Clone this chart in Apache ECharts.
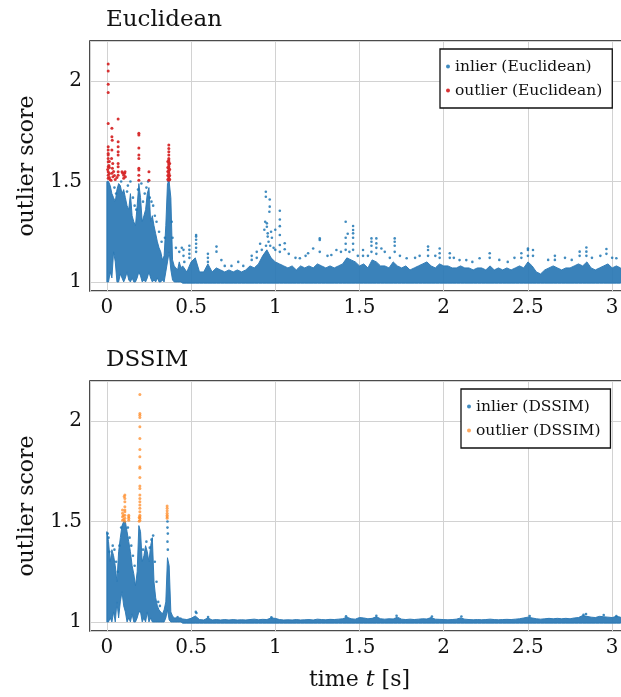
<!DOCTYPE html>
<html>
<head>
<meta charset="utf-8">
<script src="https://cdn.jsdelivr.net/npm/echarts@6/dist/echarts.min.js"></script>
<style>
html, body { margin: 0; padding: 0; background: #fff; }
#main { width: 621px; height: 697px; }
</style>
</head>
<body>
<div id="main"></div>
<script>
// time grid of the dense band (s)
var tEarly = [0.00,0.01,0.02,0.03,0.04,0.05,0.06,0.07,0.08,0.09,0.10,0.11,0.12,0.13,0.14,0.15,0.16,0.17,0.18,0.19,0.20,0.21,0.22,0.23,0.24,0.25,0.26,0.27,0.28,0.29,0.30,0.31,0.32,0.33,0.34,0.35,0.36,0.37,0.38,0.39,0.40,0.41,0.42,0.43,0.44];
var tLate = [0.45,0.475,0.5,0.525,0.55,0.575,0.6,0.625,0.65,0.675,0.7,0.725,0.75,0.775,0.8,0.825,0.85,0.875,0.9,0.925,0.95,0.975,1.0,1.025,1.05,1.075,1.1,1.125,1.15,1.175,1.2,1.225,1.25,1.275,1.3,1.325,1.35,1.375,1.4,1.425,1.45,1.475,1.5,1.525,1.55,1.575,1.6,1.625,1.65,1.675,1.7,1.725,1.75,1.775,1.8,1.825,1.85,1.875,1.9,1.925,1.95,1.975,2.0,2.025,2.05,2.075,2.1,2.125,2.15,2.175,2.2,2.225,2.25,2.275,2.3,2.325,2.35,2.375,2.4,2.425,2.45,2.475,2.5,2.525,2.55,2.575,2.6,2.625,2.65,2.675,2.7,2.725,2.75,2.775,2.8,2.825,2.85,2.875,2.9,2.925,2.95,2.975,3.0,3.025,3.05];
var bandFloor = 0.994;

// Euclidean: dense inlier band (upper / lower edge)
var eucHiEarly = [1.50,1.50,1.48,1.44,1.42,1.40,1.46,1.49,1.48,1.44,1.46,1.42,1.38,1.36,1.44,1.33,1.30,1.28,1.38,1.49,1.42,1.30,1.33,1.36,1.44,1.47,1.30,1.33,1.28,1.24,1.20,1.17,1.15,1.11,1.13,1.28,1.49,1.50,1.42,1.11,1.08,1.07,1.06,1.10,1.07];
var eucLoEarly = [1.00,1.00,1.05,1.02,1.15,1.10,1.00,1.00,1.04,1.02,1.00,1.02,1.05,1.01,1.00,1.02,1.00,1.00,1.02,1.05,1.03,1.00,1.01,1.00,1.02,1.05,1.02,1.00,1.01,1.00,1.02,1.00,1.00,1.01,1.00,1.05,1.10,1.15,1.06,1.01,1.00,1.00,1.00,1.00,1.00];
var eucHiLate = [1.08,1.05,1.10,1.12,1.05,1.05,1.09,1.05,1.07,1.06,1.05,1.06,1.05,1.06,1.05,1.06,1.08,1.07,1.09,1.13,1.16,1.12,1.10,1.09,1.08,1.07,1.08,1.06,1.08,1.07,1.08,1.07,1.09,1.08,1.07,1.08,1.07,1.08,1.09,1.12,1.11,1.10,1.08,1.09,1.07,1.11,1.10,1.08,1.08,1.07,1.10,1.08,1.07,1.08,1.06,1.07,1.08,1.09,1.10,1.08,1.07,1.09,1.08,1.08,1.07,1.07,1.08,1.07,1.07,1.06,1.07,1.07,1.06,1.08,1.06,1.07,1.06,1.07,1.06,1.07,1.08,1.07,1.10,1.08,1.05,1.04,1.06,1.07,1.08,1.07,1.06,1.07,1.07,1.08,1.09,1.08,1.10,1.07,1.06,1.07,1.08,1.09,1.07,1.08,1.07];
// Euclidean: sparse inlier points above the band
var eucInlierDots = [[0.045,1.47],[0.055,1.44],[0.085,1.50],[0.12,1.45],[0.125,1.48],[0.14,1.50],[0.155,1.42],[0.165,1.38],[0.175,1.36],[0.185,1.46],[0.205,1.49],[0.215,1.40],[0.225,1.44],[0.235,1.47],[0.245,1.50],[0.255,1.42],[0.265,1.40],[0.275,1.38],[0.285,1.33],[0.295,1.30],[0.31,1.25],[0.325,1.20],[0.345,1.22],[0.365,1.50],[0.385,1.30],[0.39,1.22],[0.41,1.17],[0.43,1.15],[0.445,1.17],
  [0.455,1.16],[0.455,1.13],[0.46,1.10],[0.49,1.18],[0.49,1.16],[0.49,1.14],[0.49,1.12],[0.53,1.234],[0.53,1.226],[0.53,1.21],[0.53,1.19],[0.53,1.17],[0.53,1.15],[0.60,1.14],[0.60,1.12],[0.60,1.10],[0.651,1.176],[0.651,1.151],[0.68,1.109],[0.70,1.08],[0.74,1.08],[0.78,1.10],[0.81,1.08],[0.86,1.13],[0.86,1.11],[0.89,1.15],[0.89,1.12],[0.91,1.19],[0.92,1.16],[0.935,1.26],[0.944,1.449],[0.944,1.424],[0.94,1.30],[0.95,1.292],[0.95,1.275],[0.955,1.242],[0.955,1.226],[0.96,1.20],[0.945,1.18],[0.967,1.411],[0.967,1.375],[0.965,1.35],[0.975,1.25],[0.98,1.22],[0.97,1.18],[0.99,1.17],[1.0,1.26],[1.0,1.16],[1.027,1.355],[1.027,1.311],[1.027,1.278],[1.027,1.234],[1.027,1.184],[1.027,1.15],[1.056,1.193],[1.056,1.163],[1.08,1.14],[1.12,1.12],[1.146,1.118],[1.18,1.13],[1.195,1.143],[1.225,1.167],[1.264,1.217],[1.264,1.209],[1.264,1.15],[1.31,1.13],[1.333,1.134],[1.363,1.159],[1.39,1.15],[1.418,1.30],[1.418,1.22],[1.418,1.19],[1.418,1.16],[1.43,1.24],[1.44,1.15],[1.462,1.279],[1.462,1.259],[1.462,1.242],[1.462,1.22],[1.462,1.19],[1.462,1.16],[1.49,1.13],[1.521,1.159],[1.521,1.13],[1.55,1.13],[1.571,1.217],[1.571,1.20],[1.571,1.18],[1.571,1.15],[1.60,1.217],[1.60,1.192],[1.60,1.17],[1.60,1.14],[1.63,1.167],[1.65,1.15],[1.68,1.12],[1.709,1.217],[1.709,1.20],[1.709,1.18],[1.709,1.15],[1.74,1.13],[1.78,1.118],[1.83,1.12],[1.857,1.13],[1.907,1.176],[1.907,1.159],[1.907,1.13],[1.95,1.13],[1.976,1.167],[1.976,1.143],[1.976,1.12],[2.036,1.143],[2.036,1.12],[2.06,1.12],[2.094,1.109],[2.134,1.109],[2.17,1.10],[2.213,1.118],[2.273,1.143],[2.273,1.12],[2.33,1.11],[2.38,1.10],[2.42,1.12],[2.461,1.143],[2.461,1.12],[2.50,1.167],[2.50,1.159],[2.50,1.13],[2.53,1.159],[2.53,1.13],[2.62,1.11],[2.66,1.13],[2.66,1.11],[2.72,1.12],[2.76,1.11],[2.807,1.151],[2.807,1.13],[2.847,1.172],[2.847,1.151],[2.847,1.13],[2.88,1.12],[2.93,1.13],[2.966,1.164],[2.966,1.14],[3.0,1.12],[3.025,1.118]];
// Euclidean: outliers
var eucOutliers = [[0.008,2.085],[0.008,2.051],[0.008,1.984],[0.008,1.944],[0.008,1.789],[0.008,1.673],[0.008,1.657],[0.008,1.640],[0.008,1.632],[0.008,1.615],[0.008,1.599],[0.008,1.574],[0.008,1.549],[0.008,1.532],[0.008,1.516],
  [0.015,1.60],[0.015,1.57],[0.015,1.54],[0.015,1.52],[0.018,1.51],[0.005,1.56],[0.012,1.58],
  [0.03,1.765],[0.03,1.723],[0.032,1.706],[0.03,1.657],[0.028,1.615],[0.035,1.59],[0.033,1.566],[0.03,1.541],[0.036,1.524],[0.025,1.507],[0.04,1.55],[0.045,1.53],[0.05,1.51],
  [0.067,1.811],[0.067,1.698],[0.067,1.673],[0.067,1.648],[0.067,1.632],[0.067,1.59],[0.067,1.574],[0.067,1.549],[0.067,1.532],[0.06,1.52],
  [0.09,1.549],[0.095,1.541],[0.10,1.532],[0.105,1.541],[0.11,1.524],[0.10,1.516],[0.108,1.549],
  [0.19,1.74],[0.19,1.732],[0.19,1.667],[0.19,1.632],[0.19,1.615],[0.19,1.566],[0.19,1.557],[0.19,1.532],[0.19,1.507],
  [0.25,1.549],[0.25,1.507],
  [0.368,1.682],[0.368,1.665],[0.368,1.648],[0.368,1.632],[0.368,1.615],[0.368,1.607],[0.368,1.599],[0.368,1.59],[0.368,1.582],[0.368,1.574],[0.368,1.566],[0.368,1.557],[0.368,1.549],[0.368,1.541],[0.368,1.532],[0.368,1.524],[0.368,1.516],[0.368,1.507],
  [0.362,1.60],[0.362,1.57],[0.362,1.55],[0.362,1.53],[0.362,1.51],[0.373,1.59],[0.373,1.56],[0.373,1.53],[0.373,1.51]];

// DSSIM: dense inlier band (upper / lower edge)
var dsHiEarly = [1.45,1.40,1.30,1.36,1.33,1.28,1.20,1.35,1.42,1.48,1.50,1.50,1.45,1.40,1.35,1.28,1.24,1.18,1.25,1.48,1.45,1.30,1.33,1.38,1.35,1.30,1.38,1.42,1.20,1.12,1.08,1.06,1.05,1.04,1.06,1.10,1.32,1.28,1.05,1.03,1.02,1.02,1.03,1.02,1.02];
var dsLoEarly = [1.00,1.00,1.02,1.00,1.05,1.00,1.10,1.02,1.10,1.15,1.08,1.05,1.00,1.02,1.00,1.04,1.00,1.00,1.02,1.05,1.05,1.00,1.02,1.00,1.05,1.00,1.02,1.00,1.00,1.00,1.00,1.00,1.00,1.00,1.00,1.02,1.06,1.01,1.00,1.00,1.00,1.00,1.00,1.00,1.00];
var dsHiLate = [1.015,1.012,1.018,1.030,1.012,1.010,1.020,1.010,1.012,1.010,1.012,1.010,1.012,1.010,1.011,1.010,1.012,1.014,1.011,1.013,1.012,1.020,1.018,1.012,1.010,1.011,1.010,1.012,1.010,1.011,1.012,1.010,1.014,1.012,1.011,1.013,1.012,1.014,1.016,1.024,1.016,1.014,1.022,1.020,1.016,1.018,1.026,1.016,1.014,1.016,1.015,1.024,1.014,1.012,1.014,1.012,1.014,1.016,1.015,1.022,1.014,1.013,1.012,1.011,1.012,1.014,1.020,1.014,1.012,1.011,1.012,1.011,1.012,1.014,1.012,1.011,1.012,1.013,1.012,1.014,1.016,1.020,1.024,1.020,1.016,1.014,1.016,1.018,1.016,1.018,1.016,1.018,1.016,1.020,1.022,1.032,1.028,1.024,1.022,1.028,1.026,1.024,1.022,1.028,1.024];
var dsInlierDots = [[0.005,1.44],[0.01,1.42],[0.015,1.35],[0.035,1.38],[0.045,1.36],[0.055,1.30],[0.065,1.25],[0.075,1.38],[0.085,1.47],[0.125,1.47],[0.135,1.42],[0.145,1.38],[0.155,1.33],[0.165,1.28],[0.215,1.36],[0.235,1.40],[0.255,1.37],[0.265,1.41],[0.275,1.43],[0.285,1.30],[0.295,1.20],[0.305,1.10],[0.315,1.08],[0.36,1.50],[0.36,1.47],[0.362,1.44],[0.36,1.40],[0.362,1.36],
  [0.528,1.05],[0.532,1.045],[0.601,1.025],[0.977,1.023],[1.42,1.028],[1.60,1.031],[1.72,1.031],[1.93,1.027],[2.105,1.027],[2.51,1.03],[2.845,1.04],[2.83,1.036],[2.95,1.035],[3.025,1.03]];
var dsOutliers = [[0.196,2.133],[0.196,2.038],[0.196,2.030],[0.196,2.018],[0.196,1.972],[0.196,1.914],[0.196,1.859],[0.196,1.823],[0.196,1.773],[0.196,1.765],[0.196,1.720],[0.196,1.677],[0.196,1.665],[0.196,1.632],[0.196,1.615],[0.196,1.599],[0.196,1.582],[0.196,1.566],[0.196,1.549],[0.196,1.532],[0.196,1.524],[0.196,1.516],[0.196,1.507],[0.192,1.502],[0.192,1.52],
  [0.107,1.632],[0.107,1.615],[0.107,1.599],[0.107,1.574],[0.107,1.557],[0.107,1.549],[0.107,1.532],[0.107,1.516],[0.107,1.502],[0.103,1.625],
  [0.093,1.557],[0.093,1.541],[0.093,1.524],[0.093,1.507],[0.098,1.53],[0.100,1.51],
  [0.130,1.532],[0.130,1.524],[0.130,1.516],[0.130,1.507],
  [0.358,1.577],[0.358,1.566],[0.358,1.554],[0.358,1.541],[0.358,1.532],[0.358,1.524],[0.358,1.516]];

var serif = 'DejaVu Serif';

function bandSeries(name, idx, hiE, loE, hiL, color) {
  return {
    name: name,
    type: 'custom',
    xAxisIndex: idx,
    yAxisIndex: idx,
    silent: true,
    clip: true,
    data: [[1, 1]],
    encode: { x: 0, y: 1 },
    z: 1,
    renderItem: function (params, api) {
      var pts = [], i;
      for (i = 0; i < tEarly.length; i++) pts.push(api.coord([tEarly[i], hiE[i]]));
      for (i = 0; i < tLate.length; i++) pts.push(api.coord([tLate[i], hiL[i]]));
      for (i = tLate.length - 1; i >= 0; i--) pts.push(api.coord([tLate[i], bandFloor]));
      for (i = tEarly.length - 1; i >= 0; i--) pts.push(api.coord([tEarly[i], loE[i]]));
      return {
        type: 'polygon',
        shape: { points: pts },
        style: { fill: color, stroke: color, lineWidth: 1, opacity: 0.93 }
      };
    }
  };
}

function dots(name, idx, data, color, size, opacity) {
  return {
    name: name,
    type: 'scatter',
    xAxisIndex: idx,
    yAxisIndex: idx,
    data: data,
    symbolSize: size,
    itemStyle: { color: color, opacity: opacity },
    z: 3
  };
}

function xAxis(idx, withName) {
  var ax = {
    type: 'value', gridIndex: idx, min: -0.1, max: 3.1, splitNumber: 6,
    axisLine: { show: false }, axisTick: { show: false },
    axisLabel: { showMinLabel: false, showMaxLabel: false, margin: 7, color: '#111', fontSize: 20, fontFamily: serif },
    splitLine: { show: true, lineStyle: { color: '#d2d2d2', width: 1 } }
  };
  if (withName) {
    ax.name = '{a|time }{b|t}{a| [s]}';
    ax.nameLocation = 'middle';
    ax.nameGap = 38;
    ax.nameTextStyle = {
      rich: {
        a: { fontSize: 22, fontFamily: serif, color: '#111' },
        b: { fontSize: 22, fontFamily: serif, fontStyle: 'italic', color: '#111' }
      }
    };
  }
  return ax;
}

function yAxis(idx) {
  return {
    type: 'value', gridIndex: idx, min: 0.955, max: 2.2, splitNumber: 3,
    name: 'outlier score', nameLocation: 'middle', nameGap: 52, nameRotate: 90,
    nameTextStyle: { fontSize: 22, fontFamily: serif, color: '#111' },
    axisLine: { show: false }, axisTick: { show: false },
    axisLabel: { showMinLabel: false, showMaxLabel: false, margin: 8, color: '#111', fontSize: 20, fontFamily: serif },
    splitLine: { show: true, lineStyle: { color: '#d2d2d2', width: 1 } }
  };
}

function legend(top, left, names) {
  return {
    orient: 'vertical', left: left, top: top,
    data: names.map(function (n) { return { name: n, icon: 'circle' }; }),
    itemWidth: 4, itemHeight: 4, itemGap: 3,
    padding: [7, 10, 7, 6],
    backgroundColor: '#fff', borderColor: '#111', borderWidth: 1.3, borderRadius: 0,
    textStyle: { fontSize: 15.5, fontFamily: serif, color: '#111', lineHeight: 21 },
    selectedMode: false
  };
}

var myChart = echarts.init(document.getElementById('main'), null, { renderer: 'canvas' });

myChart.setOption({
  animation: false,
  backgroundColor: '#fff',
  title: [
    { text: 'Euclidean', left: 106, top: 9, padding: 0, textStyle: { fontSize: 23, fontWeight: 'normal', fontFamily: serif, color: '#111' } },
    { text: 'DSSIM', left: 106, top: 349, padding: 0, textStyle: { fontSize: 23, fontWeight: 'normal', fontFamily: serif, color: '#111' } }
  ],
  legend: [
    legend(49, 440, ['inlier (Euclidean)', 'outlier (Euclidean)']),
    legend(389, 461, ['inlier (DSSIM)', 'outlier (DSSIM)'])
  ],
  grid: [
    { left: 90, top: 41, height: 250, width: 539, outerBoundsMode: 'none', show: true, borderColor: '#111', borderWidth: 1.5, backgroundColor: 'transparent' },
    { left: 90, top: 381, height: 250, width: 539, outerBoundsMode: 'none', show: true, borderColor: '#111', borderWidth: 1.5, backgroundColor: 'transparent' }
  ],
  xAxis: [xAxis(0, false), xAxis(1, true)],
  yAxis: [yAxis(0), yAxis(1)],
  series: [
    bandSeries('band (Euclidean)', 0, eucHiEarly, eucLoEarly, eucHiLate, '#2b79b5'),
    dots('inlier (Euclidean)', 0, eucInlierDots, '#1f77b4', 2.6, 0.85),
    dots('outlier (Euclidean)', 0, eucOutliers, '#d62728', 3, 0.95),
    bandSeries('band (DSSIM)', 1, dsHiEarly, dsLoEarly, dsHiLate, '#2b79b5'),
    dots('inlier (DSSIM)', 1, dsInlierDots, '#1f77b4', 2.6, 0.85),
    dots('outlier (DSSIM)', 1, dsOutliers, '#ff8c2a', 3, 0.75)
  ]
});
</script>
</body>
</html>
